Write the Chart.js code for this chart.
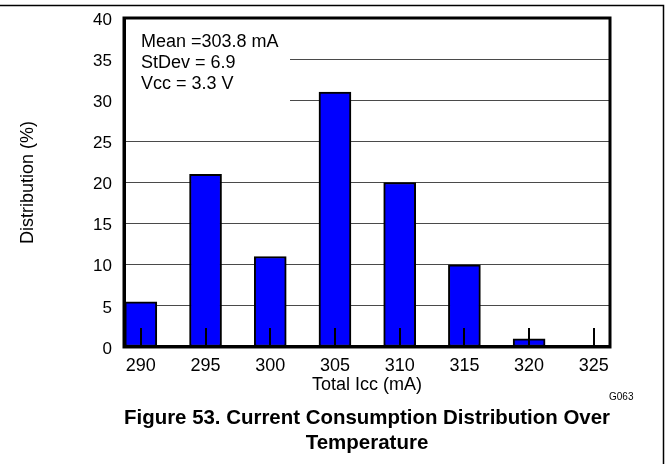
<!DOCTYPE html>
<html>
<head>
<meta charset="utf-8">
<script src="https://cdn.jsdelivr.net/npm/chart.js@4/dist/chart.umd.min.js"></script>
<style>
html,body{margin:0;padding:0;background:#fff;}
canvas{display:block;}
</style>
</head>
<body>
<canvas id="c" width="669" height="464"></canvas>
<script>
const categories = [290, 295, 300, 305, 310, 315, 320, 325];
const distribution = [5.5, 21, 11, 31, 20, 10, 1, 0];
const xTickValues = [290, 295, 300, 305, 310, 315, 320, 325];
const yTickValues = [0, 5, 10, 15, 20, 25, 30, 35, 40];
const statsLines = ['Mean =303.8 mA', 'StDev = 6.9', 'Vcc = 3.3 V'];
const figureTitle = ['Figure 53. Current Consumption Distribution Over', 'Temperature'];
const xTitle = 'Total Icc (mA)';
const yTitle = 'Distribution (%)';
const figId = 'G063';

const FONT = "'Liberation Sans', Arial, sans-serif";
Chart.defaults.font.family = FONT;
Chart.defaults.color = '#000';

const extras = {
  id: 'extras',
  beforeDatasetsDraw(chart) {
    const ctx = chart.ctx, a = chart.chartArea;
    ctx.save();
    ctx.fillStyle = '#fff';
    ctx.fillRect(a.left + 2, a.top + 2, 164, 98);
    ctx.fillStyle = '#000';
    ctx.font = '18px ' + FONT;
    ctx.textBaseline = 'middle';
    statsLines.forEach((t, i) => ctx.fillText(t, a.left + 17, a.top + 24 + i * 21));
    ctx.restore();
  },
  afterDatasetsDraw(chart) {
    const ctx = chart.ctx, a = chart.chartArea, xs = chart.scales.x;
    ctx.save();
    ctx.strokeStyle = '#000';
    ctx.lineWidth = 2;
    xs.ticks.forEach(t => {
      const px = Math.round(xs.getPixelForValue(t.value));
      ctx.beginPath();
      ctx.moveTo(px, a.bottom);
      ctx.lineTo(px, a.bottom - 19);
      ctx.stroke();
    });
    ctx.lineWidth = 3;
    ctx.strokeRect(a.left, a.top, a.right - a.left, a.bottom - a.top);
    ctx.restore();
  },
  afterDraw(chart) {
    const ctx = chart.ctx;
    ctx.save();
    ctx.strokeStyle = '#000';
    ctx.lineWidth = 1.5;
    ctx.beginPath();
    ctx.moveTo(0, 5.5);
    ctx.lineTo(663.5, 5.5);
    ctx.lineTo(663.5, 464);
    ctx.stroke();
    ctx.fillStyle = '#000';
    ctx.font = '10px ' + FONT;
    ctx.textBaseline = 'middle';
    ctx.fillText(figId, 609, 397);
    ctx.restore();
  }
};

new Chart(document.getElementById('c'), {
  type: 'bar',
  data: {
    datasets: [{
      data: categories.map((c, i) => ({x: c, y: distribution[i]})),
      backgroundColor: '#0000ff',
      borderColor: '#000',
      borderWidth: 2,
      borderSkipped: false,
      barThickness: 32
    }]
  },
  options: {
    responsive: false,
    animation: false,
    layout: {padding: {left: 0, right: 59, top: 18, bottom: 0}},
    plugins: {
      legend: {display: false},
      tooltip: {enabled: false},
      title: {
        display: true,
        position: 'bottom',
        fullSize: false,
        text: figureTitle,
        font: {size: 20.5, weight: 'bold', family: FONT, lineHeight: 1.22},
        color: '#000',
        padding: {top: 4, bottom: 8.5}
      }
    },
    scales: {
      x: {
        type: 'linear',
        offset: false,
        min: 288.7,
        max: 326.25,
        afterBuildTicks(s) { s.ticks = xTickValues.map(v => ({value: v})); },
        afterFit(s) { s.height = 54.5; },
        grid: {display: false, drawTicks: false, offset: false},
        border: {display: true, color: '#000', width: 3},
        ticks: {font: {size: 18}, padding: 8, color: '#000'},
        title: {display: true, text: xTitle, font: {size: 18}, color: '#000', padding: {top: 0, bottom: 6}}
      },
      y: {
        min: 0,
        max: 40,
        afterBuildTicks(s) { s.ticks = yTickValues.map(v => ({value: v})); },
        afterFit(s) { s.width = 124; s.paddingTop = 0; s.paddingBottom = 0; },
        grid: {color: '#4a4a4a', lineWidth: 1, drawTicks: false},
        border: {display: true, color: '#000', width: 3},
        ticks: {font: {size: 17}, padding: 12, color: '#000', labelOffset: 2},
        title: {display: true, text: yTitle, font: {size: 18}, color: '#000', padding: {top: 17.5, bottom: 0}}
      }
    }
  },
  plugins: [extras]
});
</script>
</body>
</html>
